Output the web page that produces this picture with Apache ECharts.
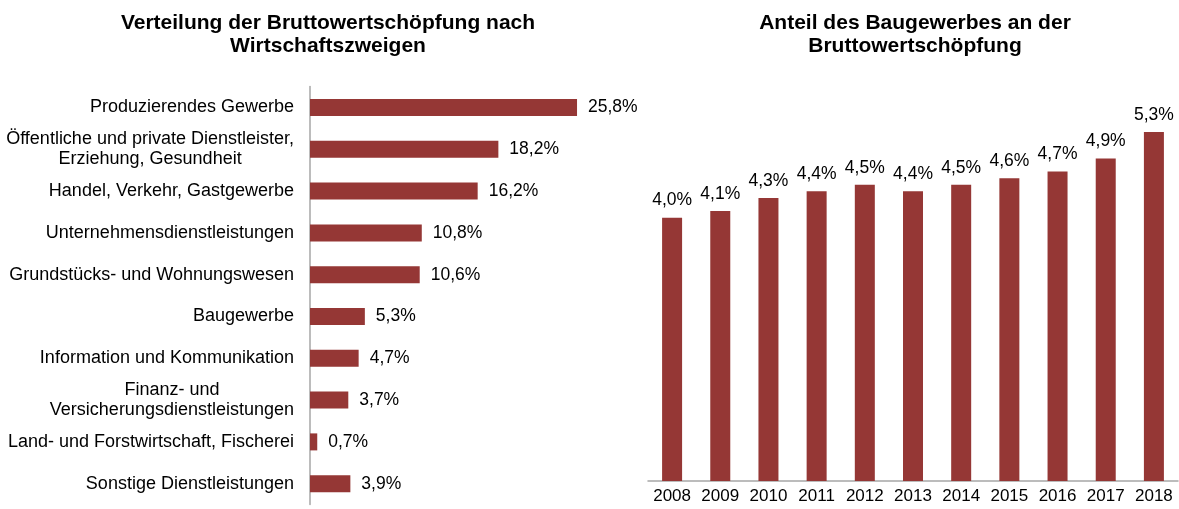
<!DOCTYPE html>
<html>
<head>
<meta charset="utf-8">
<script src="https://cdn.jsdelivr.net/npm/echarts@6/dist/echarts.min.js"></script>
<style>
  html, body { margin: 0; padding: 0; background: #fff; }
  #chart { width: 1179px; height: 509px; }
</style>
</head>
<body>
<div id="chart"></div>
<script>
const sectors = [
  "Produzierendes Gewerbe",
  "Öffentliche und private Dienstleister,\nErziehung, Gesundheit",
  "Handel, Verkehr, Gastgewerbe",
  "Unternehmensdienstleistungen",
  "Grundstücks- und Wohnungswesen",
  "Baugewerbe",
  "Information und Kommunikation",
  "Finanz- und\nVersicherungsdienstleistungen",
  "Land- und Forstwirtschaft, Fischerei",
  "Sonstige Dienstleistungen",
];
const sectorShares = [25.8, 18.2, 16.2, 10.8, 10.6, 5.3, 4.7, 3.7, 0.7, 3.9];

const years = ["2008", "2009", "2010", "2011", "2012", "2013", "2014", "2015", "2016", "2017", "2018"];
const constructionShares = [4.0, 4.1, 4.3, 4.4, 4.5, 4.4, 4.5, 4.6, 4.7, 4.9, 5.3];

const barColor = "#953735";
const axisGrey = "#a6a6a6";
const font = "Arial, 'Liberation Sans', sans-serif";
const pct = (v) => v.toFixed(1).replace(".", ",") + "%";

const chart = echarts.init(document.getElementById("chart"));

const titleStyle = { fontSize: 21, fontWeight: "bold", color: "#000", lineHeight: 23, fontFamily: font };

chart.setOption({
  backgroundColor: "#fff",
  animation: false,
  textStyle: { fontFamily: font },
  title: [
    {
      text: "Verteilung der Bruttowertschöpfung nach\nWirtschaftszweigen",
      left: 323, top: 7, textAlign: "center", textStyle: titleStyle,
    },
    {
      text: "Anteil des Baugewerbes an der\nBruttowertschöpfung",
      left: 910, top: 7, textAlign: "center", textStyle: titleStyle,
    },
  ],
  grid: [
    { left: 310, top: 86.6, width: 310.5, height: 418 },
    { left: 648, top: 86, width: 530, height: 395 },
  ],
  xAxis: [
    { gridIndex: 0, type: "value", min: 0, max: 30, show: false },
    {
      gridIndex: 1, type: "category", data: years,
      axisLine: { lineStyle: { color: axisGrey, width: 1.5 } },
      axisTick: { length: 5, lineStyle: { color: axisGrey, width: 1.5 } },
      axisLabel: { color: "#000", fontSize: 17, margin: 7, interval: 0, fontFamily: font },
    },
  ],
  yAxis: [
    {
      gridIndex: 0, type: "category", data: sectors, inverse: true,
      axisLine: { lineStyle: { color: axisGrey, width: 1.5 } },
      axisTick: { length: 6, lineStyle: { color: axisGrey, width: 1.5 } },
      axisLabel: {
        color: "#000", fontSize: 18, margin: 16, interval: 0, fontFamily: font,
        formatter: (v) => v.split("\n").map((l) => "{c|" + l + "}").join("\n"),
        rich: { c: { align: "center", fontSize: 18, lineHeight: 20, color: "#000", fontFamily: font } },
      },
    },
    { gridIndex: 1, type: "value", min: 0, max: 6, show: false },
  ],
  series: [
    {
      type: "bar", xAxisIndex: 0, yAxisIndex: 0, data: sectorShares,
      barWidth: 17, itemStyle: { color: barColor },
      label: {
        show: true, position: "right", distance: 11, color: "#000", fontSize: 17.5,
        fontFamily: font, formatter: (p) => pct(p.value),
      },
    },
    {
      type: "bar", xAxisIndex: 1, yAxisIndex: 1, data: constructionShares,
      barWidth: 20, itemStyle: { color: barColor },
      label: {
        show: true, position: "top", distance: 8, color: "#000", fontSize: 17.5,
        fontFamily: font, formatter: (p) => pct(p.value),
      },
    },
  ],
});
</script>
</body>
</html>
